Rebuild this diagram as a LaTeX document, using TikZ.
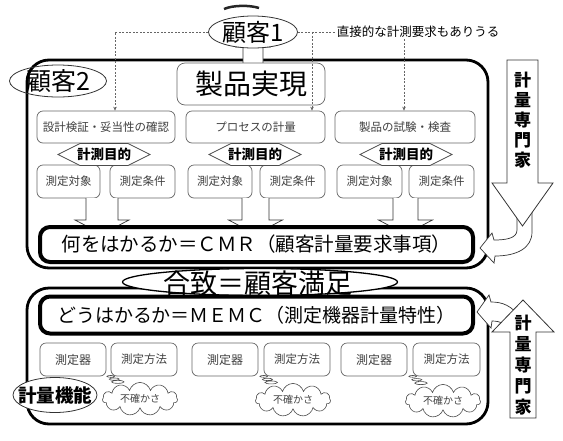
\documentclass[tikz,border=0pt]{standalone}
\usepackage{fontspec}
\setmainfont{Noto Sans CJK JP}
\usetikzlibrary{shapes.geometric,shapes.callouts,shapes.symbols,arrows.meta}
\newcommand\setfs[1]{\fontsize{#1}{#1}\selectfont}
\begin{document}
\begin{tikzpicture}[x=1pt,y=-1pt,
  thinbox/.style={draw=black!60, line width=0.7pt, rounded corners=6pt, fill=white, inner sep=0pt, text=black!75, font=\setfs{11.5}},
  bigframe/.style={draw=black, line width=2.8pt, rounded corners=22pt, inner sep=0pt},
  thickbox/.style={draw=black, line width=4pt, rounded corners=10pt, inner sep=0pt},
  hollow/.style={draw=black!80, line width=0.7pt, fill=white, line join=miter},
  dashline/.style={draw=black!60, line width=0.5pt, dash pattern=on 2pt off 1.5pt},
  dtip/.style={-{Stealth[length=4pt,width=3.5pt]}},
  oval/.style={ellipse, draw=black!80, line width=0.8pt, inner sep=0pt},
  puff/.style={cloud callout, cloud puffs=11, aspect=2.6, draw=black!70, line width=0.6pt, fill=white, inner sep=0pt, minimum width=75pt, minimum height=30pt, callout pointer segments=3, font=\setfs{10}, text=black!75},
]
\useasboundingbox (0,0) rectangle (563,440);

% ---------- upper frame ----------
\node[bigframe, minimum width=461pt, minimum height=208pt] (upframe) at (257.5,164) {};

% arrow from product realisation to customer 1
\draw[hollow] (243,63) -- (243,47) -- (236,47) -- (253,33) -- (270,47) -- (263,47) -- (263,63);
\draw[line width=2.5pt, black!85] (224,9) .. controls (233,5) and (250,5) .. (259,8);
\node[oval, fill=white, minimum width=89pt, minimum height=32pt, font=\setfs{24}, text height=18pt, text depth=0pt] (c1) at (253,32) {顧客1};
\node[oval, minimum width=97pt, minimum height=32pt, font=\setfs{25}, text height=19pt, text depth=0pt] (c2) at (58,81) {顧客2};

\node[thinbox, rounded corners=8pt, text=black, font=\setfs{28}, minimum width=148pt, minimum height=42pt] (prod) at (251,84) {製品実現};

% process boxes
\node[thinbox, minimum width=138pt, minimum height=32pt] (p1) at (106,127) {設計検証・妥当性の確認};
\node[thinbox, minimum width=139pt, minimum height=32pt] (p2) at (255.5,127) {プロセスの計量};
\node[thinbox, minimum width=140pt, minimum height=32pt] (p3) at (405,127) {製品の試験・検査};

% small boxes
\node[thinbox, minimum width=63pt, minimum height=33pt] (a1) at (68.5,181.5) {測定対象};
\node[thinbox, minimum width=65pt, minimum height=33pt] (b1) at (142.5,181.5) {測定条件};
\node[thinbox, minimum width=64pt, minimum height=33pt] (a2) at (220,181.5) {測定対象};
\node[thinbox, minimum width=65pt, minimum height=33pt] (b2) at (292.5,181.5) {測定条件};
\node[thinbox, minimum width=65pt, minimum height=33pt] (a3) at (369.5,181.5) {測定対象};
\node[thinbox, minimum width=65pt, minimum height=33pt] (b3) at (441.5,181.5) {測定条件};

% hexagons
\foreach \c/\n in {104/1,255/2,406/3} {
  \draw[hollow, draw=black!70] (\c-46,154.5) -- (\c-24,143.5) -- (\c+24,143.5) -- (\c+46,154.5) -- (\c+24,165.5) -- (\c-24,165.5) -- cycle;
  \node[font=\bfseries\setfs{13.5}, inner sep=0pt] (h\n) at (\c,154.5) {計測目的};
}

% hollow down arrows
\foreach \c/\s in {102/16,255.5/13.5,405.5/12.5} {
  \draw[hollow] (\c-\s,198) -- (\c-\s,220) -- (\c-27,220) -- (\c,234) -- (\c+27,220) -- (\c+\s,220) -- (\c+\s,198);
}

\node[thickbox, fill=white, minimum width=433pt, minimum height=35pt, font=\setfs{19.5}] (cmr) at (256.5,244.5) {何をはかるか＝ＣＭＲ（顧客計量要求事項）};

% ---------- lower frame ----------
\node[bigframe, minimum width=461pt, minimum height=136pt] (lowframe) at (257.5,356) {};

% ---------- agreement ellipse ----------
\node[ellipse, draw=black, line width=1.3pt, fill=white, minimum width=275pt, minimum height=27pt, inner sep=0pt] (agree) at (260,282) {};
\node[font=\setfs{27}, inner sep=0pt] (agreetext) at (258,283.5) {合致＝顧客満足};

\node[thickbox, minimum width=433pt, minimum height=37pt, font=\setfs{19}] (memc) at (256.5,315) {どうはかるか＝ＭＥＭＣ（測定機器計量特性）};

\node[thinbox, minimum width=66pt, minimum height=33pt, font=\setfs{12}] (m1) at (73,359.5) {測定器};
\node[thinbox, minimum width=66pt, minimum height=33pt] (n1) at (144,359.5) {測定方法};
\node[thinbox, minimum width=66pt, minimum height=33pt, font=\setfs{12}] (m2) at (225,359.5) {測定器};
\node[thinbox, minimum width=66pt, minimum height=33pt] (n2) at (297,359.5) {測定方法};
\node[thinbox, minimum width=66pt, minimum height=33pt, font=\setfs{12}] (m3) at (374,359.5) {測定器};
\node[thinbox, minimum width=67pt, minimum height=33pt] (n3) at (446.5,359.5) {測定方法};

\node[puff, callout absolute pointer={(n1.south west)}] (u1) at (140,399) {不確かさ};
\node[puff, callout absolute pointer={(n2.south west)}] (u2) at (293,400) {不確かさ};
\node[puff, callout absolute pointer={(n3.south west)}] (u3) at (443,401) {不確かさ};

\node[oval, fill=white, minimum width=84pt, minimum height=35pt, font=\bfseries\setfs{18.5}, text height=14pt, text depth=0pt] (func) at (55,395) {\makebox[40pt][c]{計量機能}};

% ---------- curved arrows ----------
\draw[hollow] (517,212) -- (517,230) .. controls (517,238) and (507,240) .. (494,240) -- (492,233) -- (480,248) -- (494,263) -- (495,256) .. controls (517,256) and (532,248) .. (532,232) -- (532,205) -- cycle;
\draw[hollow] (522,320) .. controls (512,305) and (502,302) .. (491,302) -- (489,295) -- (477,312) -- (491,328) -- (492,321) .. controls (500,321) and (508,324) .. (514,334) -- cycle;

% ---------- metrology expert arrows ----------
\draw[hollow, line width=0.8pt] (507,60) -- (538,60) -- (538,183) -- (553,183) -- (522.5,226) -- (492,183) -- (507,183) -- cycle;
\node[font=\bfseries\fontsize{17}{20}\selectfont, align=center, inner sep=0pt] (exp1) at (522.5,120) {計\\量\\専\\門\\家};
\draw[hollow, line width=0.8pt] (523,300) -- (554,332) -- (536,332) -- (536,418) -- (510,418) -- (510,332) -- (492,332) -- cycle;
\node[font=\bfseries\fontsize{17}{21}\selectfont, align=center, inner sep=0pt] (exp2) at (523,365.5) {計\\量\\専\\門\\家};

% ---------- dashed requirement lines ----------
\node[font=\setfs{12.5}, inner sep=1pt] (note) at (418,32) {直接的な計測要求もありうる};
\coordinate (j2) at (312,32);
\coordinate (j3) at (404,39);
\draw[dashline, dtip] (c1.west) -| ([xshift=9pt]p1.north);
\draw[dashline] (c1.east) -- (note.west);
\draw[dashline, dtip] (j2) -- (j2 |- p2.north);
\draw[dashline, dtip] (j3) -- (j3 |- p3.north);

\end{tikzpicture}
\end{document}
